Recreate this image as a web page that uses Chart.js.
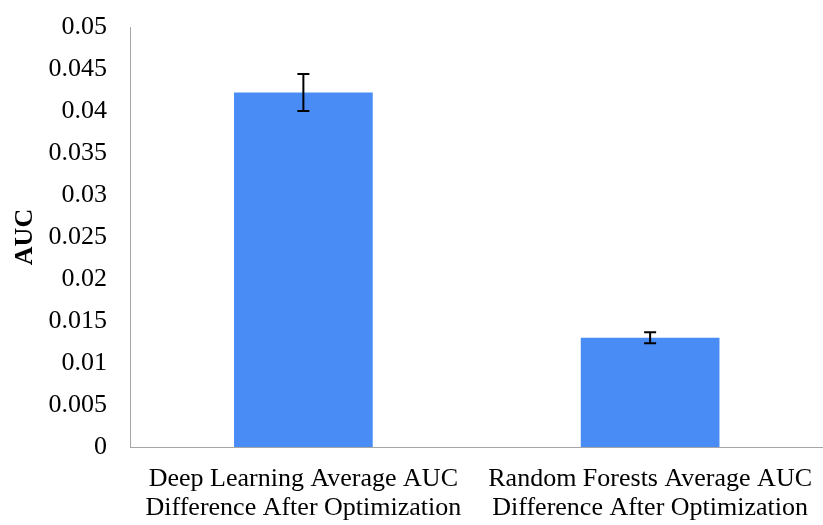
<!DOCTYPE html>
<html>
<head>
<meta charset="utf-8">
<script src="https://cdn.jsdelivr.net/npm/chart.js@4/dist/chart.umd.min.js"></script>
<style>
  body { margin: 0; background: #fff; overflow: hidden; }
  #wrap { width: 830px; height: 525px; position: relative; }
</style>
</head>
<body>
<div id="wrap"><canvas id="mycanvas"></canvas></div>
<script>
const categories = [
  ["Deep Learning Average AUC", "Difference After Optimization"],
  ["Random Forests Average AUC", "Difference After Optimization"]
];
const aucValues = [0.0422, 0.0130];
const aucErrors = [0.0022, 0.00065];
const yTicks = [0, 0.005, 0.01, 0.015, 0.02, 0.025, 0.03, 0.035, 0.04, 0.045, 0.05];

const serif = "'Liberation Serif', 'Times New Roman', serif";

// draws the black I-shaped error bars on top of each bar
const errorBars = {
  id: "errorBars",
  afterDatasetsDraw(chart) {
    const ctx = chart.ctx;
    const y = chart.scales.y;
    const meta = chart.getDatasetMeta(0);
    ctx.save();
    ctx.strokeStyle = "#000";
    ctx.lineWidth = 2;
    meta.data.forEach((bar, i) => {
      const x = bar.x;
      const top = y.getPixelForValue(aucValues[i] + aucErrors[i]);
      const bot = y.getPixelForValue(aucValues[i] - aucErrors[i]);
      ctx.beginPath();
      ctx.moveTo(x, top); ctx.lineTo(x, bot);
      ctx.moveTo(x - 6, top); ctx.lineTo(x + 6, top);
      ctx.moveTo(x - 6, bot); ctx.lineTo(x + 6, bot);
      ctx.stroke();
    });
    ctx.restore();
  }
};

new Chart(document.getElementById("mycanvas"), {
  type: "bar",
  data: {
    labels: categories,
    datasets: [{
      data: aucValues,
      backgroundColor: "#4a8cf6",
      borderWidth: 0,
      barPercentage: 0.4,
      categoryPercentage: 1
    }]
  },
  options: {
    responsive: true,
    maintainAspectRatio: false,
    animation: false,
    layout: { padding: { top: 27, right: 0, left: 0, bottom: 0 } },
    plugins: { legend: { display: false }, tooltip: { enabled: false } },
    scales: {
      x: {
        grid: { display: false, drawTicks: false },
        border: { display: true, color: "#a6a6a6", width: 1 },
        ticks: {
          color: "#000",
          padding: 18,
          maxRotation: 0,
          font: { family: serif, size: 26, lineHeight: 1.1 }
        },
        afterFit: (s) => { s.height = 78; }
      },
      y: {
        min: 0,
        max: 0.05,
        afterBuildTicks: (s) => { s.ticks = yTicks.map(v => ({ value: v })); },
        grid: { display: false, drawTicks: false },
        border: { display: true, color: "#a6a6a6", width: 1 },
        ticks: {
          color: "#000",
          padding: 23,
          font: { family: serif, size: 26 },
          callback: (v) => String(+v.toFixed(3))
        },
        title: {
          display: true,
          text: "AUC",
          color: "#000",
          padding: { top: 10, bottom: 0 },
          font: { family: serif, size: 26, weight: "bold" }
        },
        afterFit: (s) => {
          s.width = 130;
          s.paddingTop = 0;
          s.paddingBottom = 0;
        }
      }
    }
  },
  plugins: [errorBars]
});
</script>
</body>
</html>
